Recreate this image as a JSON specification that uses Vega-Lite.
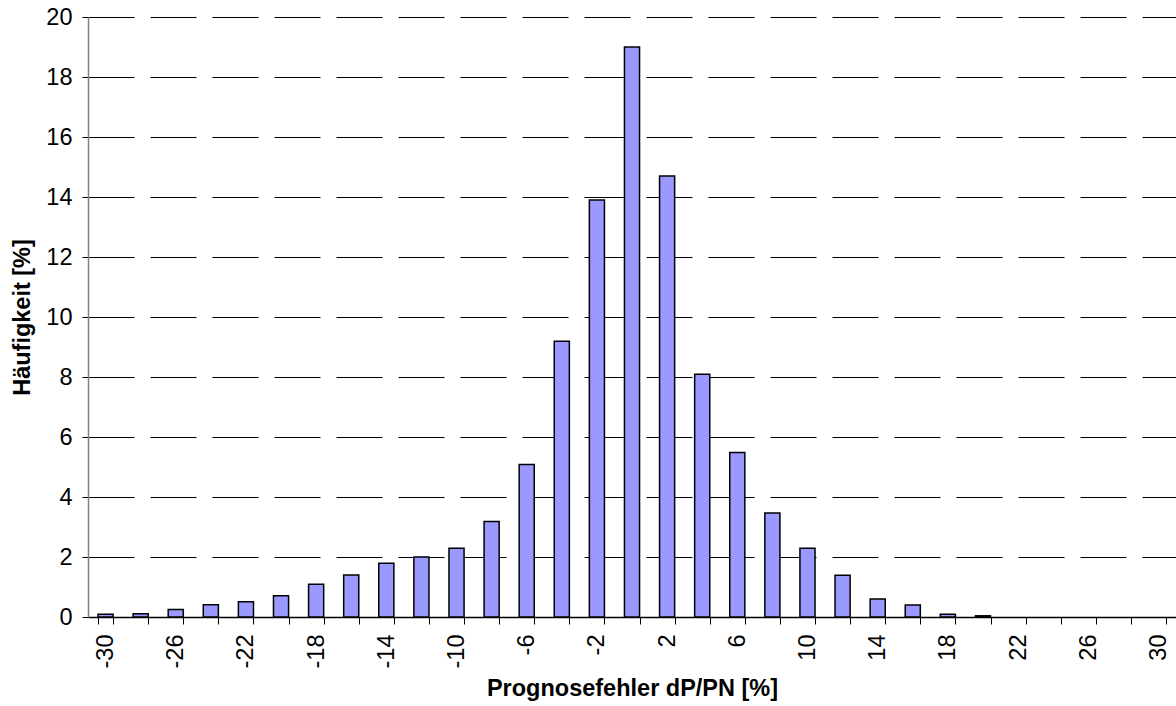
{
  "$schema": "https://vega.github.io/schema/vega-lite/v6.json",
  "autosize": "none",
  "width": 1088,
  "height": 600,
  "padding": {"left": 88, "top": 17, "right": 0, "bottom": 89},
  "background": "white",
  "config": {
    "view": {"stroke": null},
    "font": "Liberation Sans",
    "axis": {"labelFont": "Liberation Sans", "titleFont": "Liberation Sans", "labelColor": "black", "titleColor": "black"}
  },
  "data": {
    "values": [
      {"x": -30, "h": 0.09}, {"x": -28, "h": 0.11}, {"x": -26, "h": 0.25}, {"x": -24, "h": 0.41},
      {"x": -22, "h": 0.51}, {"x": -20, "h": 0.71}, {"x": -18, "h": 1.09}, {"x": -16, "h": 1.4},
      {"x": -14, "h": 1.79}, {"x": -12, "h": 2.0}, {"x": -10, "h": 2.29}, {"x": -8, "h": 3.18},
      {"x": -6, "h": 5.08}, {"x": -4, "h": 9.19}, {"x": -2, "h": 13.9}, {"x": 0, "h": 19.0},
      {"x": 2, "h": 14.7}, {"x": 4, "h": 8.09}, {"x": 6, "h": 5.48}, {"x": 8, "h": 3.47},
      {"x": 10, "h": 2.29}, {"x": 12, "h": 1.39}, {"x": 14, "h": 0.6}, {"x": 16, "h": 0.4},
      {"x": 18, "h": 0.09}, {"x": 20, "h": 0.04}, {"x": 22, "h": 0}, {"x": 24, "h": 0},
      {"x": 26, "h": 0}, {"x": 28, "h": 0}, {"x": 30, "h": 0}
    ]
  },
  "mark": {"type": "bar", "fill": "#9999FF", "stroke": "black", "strokeWidth": 1.5},
  "encoding": {
    "x": {
      "field": "x", "type": "ordinal", "sort": null,
      "scale": {"paddingInner": 0.57, "paddingOuter": 0.285},
      "axis": {
        "title": "Prognosefehler dP/PN [%]",
        "titleFontSize": 23.5, "titleFontWeight": "bold", "titlePadding": 9,
        "labelFontSize": 23.5, "labelAngle": -90, "labelPadding": 10,
        "labelExpr": "abs(datum.value) % 4 == 2 ? datum.label : ''",
        "tickBand": "extent", "tickSize": 7, "tickColor": "black", "tickWidth": 1,
        "domainColor": "black", "domainWidth": 1.5, "grid": false
      }
    },
    "y": {
      "field": "h", "type": "quantitative",
      "scale": {"domain": [0, 20], "nice": false},
      "axis": {
        "title": "Häufigkeit [%]",
        "titleFontSize": 23.5, "titleFontWeight": "bold", "titlePadding": 11,
        "values": [0, 2, 4, 6, 8, 10, 12, 14, 16, 18, 20],
        "labelFontSize": 23.5, "labelPadding": 10,
        "tickSize": 6, "tickColor": "black", "tickWidth": 1,
        "domainColor": "#808080", "domainWidth": 1.5,
        "grid": true, "gridColor": "black", "gridWidth": 1, "gridDash": [46, 16], "gridOpacity": 1
      }
    },
    "strokeOpacity": {"condition": {"test": "datum.h > 0", "value": 1}, "value": 0}
  }
}
